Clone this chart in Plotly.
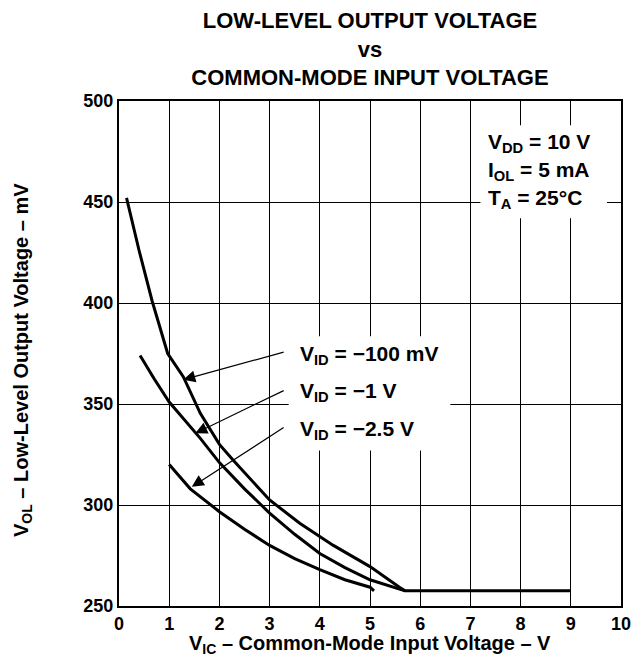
import plotly.graph_objects as go

# ---- data ----
x_100mv = [0.15, 0.4, 0.66, 0.82, 0.97, 1.28, 1.62, 2.0, 2.28, 3.0, 3.6, 4.27, 5.0, 5.6, 5.7, 9.0]
y_100mv = [452, 426, 401, 388, 375, 363.5, 345.4, 330, 322, 302.5, 291, 280, 269.5, 259, 257.5, 257.5]

x_1v = [0.42, 0.7, 1.0, 1.62, 2.0, 2.5, 3.0, 3.5, 4.0, 4.5, 5.0, 5.6, 5.7]
y_1v = [374, 362.5, 351, 333, 321, 308, 296, 285.5, 276, 269, 263, 258.5, 257.5]

x_25v = [1.0, 1.42, 2.0, 2.5, 3.0, 3.5, 4.0, 4.5, 5.0, 5.08]
y_25v = [320, 308, 296.7, 288, 280, 273.5, 268, 263, 259.3, 257.5]

x_ticks = [0, 1, 2, 3, 4, 5, 6, 7, 8, 9, 10]
y_ticks = [250, 300, 350, 400, 450, 500]

labels = ["V<sub>ID</sub> = −100 mV", "V<sub>ID</sub> = −1 V", "V<sub>ID</sub> = −2.5 V"]
label_y = [374.5, 356, 337]
arrow_tip = [(1.28, 362), (1.52, 335.5), (1.45, 309)]
arrow_tail_x = 3.31
arrow_tail_y = [375.9, 357, 338.8]

cond_lines = ["V<sub>DD</sub> = 10 V", "I<sub>OL</sub> = 5 mA", "T<sub>A</sub> = 25°C"]
cond_y = [479, 465.3, 451.5]

FONT = "Liberation Sans, Arial, sans-serif"

W, H = 635, 664
ML, MR, MT, MB = 119, 14, 101, 58
PW, PH = W - ML - MR, H - MT - MB

fig = go.Figure()
for xs, ys in [(x_100mv, y_100mv), (x_1v, y_1v), (x_25v, y_25v)]:
    fig.add_trace(go.Scatter(x=xs, y=ys, mode="lines",
                             line=dict(color="black", width=3),
                             showlegend=False, hoverinfo="skip"))

# white boxes that interrupt the grid behind the text
fig.add_shape(type="rect", xref="x", yref="y", x0=7.2, x1=9.72, y0=442, y1=488,
              fillcolor="white", line=dict(width=0), layer="above")
fig.add_shape(type="rect", xref="x", yref="y", x0=3.38, x1=6.6, y0=327, y1=383.5,
              fillcolor="white", line=dict(width=0), layer="above")

annotations = []
for txt, ly, (tx, ty), tyy in zip(labels, label_y, arrow_tip, arrow_tail_y):
    annotations.append(dict(x=3.56, y=ly, xref="x", yref="y", text="<b>" + txt + "</b>",
                            showarrow=False, xanchor="left", yanchor="middle",
                            font=dict(family=FONT, size=21, color="black")))
    annotations.append(dict(x=tx, y=ty, xref="x", yref="y", ax=arrow_tail_x, ay=tyy,
                            axref="x", ayref="y", text="", showarrow=True,
                            arrowhead=2, arrowsize=2.0, arrowwidth=1.2, arrowcolor="black"))
for txt, cy in zip(cond_lines, cond_y):
    annotations.append(dict(x=7.32, y=cy, xref="x", yref="y", text="<b>" + txt + "</b>",
                            showarrow=False, xanchor="left", yanchor="middle",
                            font=dict(family=FONT, size=21, color="black")))

# axis titles
annotations.append(dict(x=(370 - ML) / PW, y=-(644 - (MT + PH)) / PH, xref="paper", yref="paper",
                        text="<b>V<sub>IC</sub> – Common-Mode Input Voltage – V</b>",
                        showarrow=False, xanchor="center", yanchor="middle",
                        font=dict(family=FONT, size=20, color="black")))
annotations.append(dict(x=(22 - ML) / PW, y=(MT + PH - 360) / PH, xref="paper", yref="paper",
                        text="<b>V<sub>OL</sub> – Low-Level Output Voltage – mV</b>",
                        showarrow=False, textangle=-90, xanchor="center", yanchor="middle",
                        font=dict(family=FONT, size=20, color="black")))

fig.update_layout(
    template="none",
    width=W, height=H,
    margin=dict(l=ML, r=MR, t=MT, b=MB, autoexpand=False),
    paper_bgcolor="white", plot_bgcolor="white",
    title=dict(text="<b>LOW-LEVEL OUTPUT VOLTAGE<br>vs<br>COMMON-MODE INPUT VOLTAGE</b>",
               xref="container", yref="container",
               x=370 / W, xanchor="center", y=1 - 28 / H, yanchor="middle",
               font=dict(family=FONT, size=22, color="black")),
    annotations=annotations,
    font=dict(family=FONT, color="black"),
)
fig.update_xaxes(range=[0, 10], tickvals=x_ticks, ticktext=["<b>%d</b>" % v for v in x_ticks],
                 showgrid=True, gridcolor="black", gridwidth=1, zeroline=False,
                 showline=True, linecolor="black", linewidth=2, mirror=True, automargin=False,
                 ticks="", tickfont=dict(family=FONT, size=18, color="black"))
fig.update_yaxes(range=[250, 500], tickvals=y_ticks, ticktext=["<b>%d</b>" % v for v in y_ticks],
                 showgrid=True, gridcolor="black", gridwidth=1, zeroline=False,
                 showline=True, linecolor="black", linewidth=2, mirror=True, automargin=False,
                 ticks="", tickfont=dict(family=FONT, size=18, color="black"))

# remove the browser's default 8 px body margin so the figure fills the window exactly
fig.write_html("out.html", config={"displayModeBar": False},
               post_script="document.body.style.margin='0';")
